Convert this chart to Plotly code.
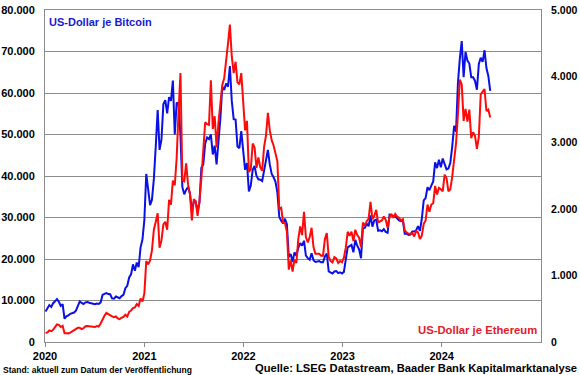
import pandas as pd
import plotly.graph_objects as go

# Weekly (Friday) closing prices, Jan 2020 - Jun 2024
btc_usd = [
    # 2020
    7350, 8050, 8900, 8450, 9350,
    9800, 10350, 9700, 8700,
    9100, 5600, 6200, 6400,
    6800, 6900, 7100, 7550,
    8850, 9800, 9400, 9150, 9550,
    9650, 9450, 9350, 9150,
    9100, 9250, 9150, 9550, 11350,
    11600, 11800, 11550, 11500,
    10500, 10450, 10950, 10700,
    10550, 11050, 11350, 12950, 13550,
    15550, 16300, 18700, 17150,
    19150, 18050, 22800, 24700,
    # 2021
    29400, 40500, 36800, 33000, 34300,
    39300, 47200, 55900, 46300,
    48800, 57300, 58300, 55100,
    59000, 58100, 63000, 50000, 57700,
    57300, 49700, 37300, 35600,
    36700, 37300, 35800, 31600,
    33800, 33800, 31500, 33600, 42000,
    42800, 47800, 49300, 48900,
    50000, 45200, 47300, 42800,
    48200, 53900, 61500, 60700, 62300,
    61500, 66500, 58100, 53700,
    53600, 47100, 46700, 50800, 46300,
    # 2022
    41500, 43100, 36300, 37700,
    41500, 42400, 40000, 39200,
    39100, 38800, 41300, 44500,
    46300, 42800, 40500, 39700, 38600,
    36000, 30100, 29200, 28600,
    29700, 28400, 20500, 21200,
    19300, 21600, 20800, 22700, 23800,
    23200, 24400, 20800, 20200,
    19800, 21400, 19700, 19300, 19400,
    19500, 19200, 19200, 20600,
    21300, 17000, 16700, 16500,
    17000, 17100, 16600, 16800, 16500,
    # 2023
    16900, 19900, 22800, 23100,
    23400, 21600, 24600, 23200,
    22300, 20200, 27400, 27500, 28500,
    27900, 30500, 27800, 29300,
    29500, 26800, 26900, 26700,
    27200, 26500, 26300, 30700, 30500,
    30300, 30300, 29800, 29300,
    29100, 29400, 26100, 26100,
    25800, 25900, 26600, 26600, 26900,
    27900, 26800, 29700, 34100,
    34700, 37300, 36600, 37700,
    38700, 43300, 41900, 43900, 42100,
    # 2024
    44200, 42900, 41600, 41800,
    43200, 47100, 52100, 50700,
    62400, 68300, 72500, 63800, 69900,
    67800, 67100, 63800, 63800,
    62900, 60800, 67000, 68500, 67500,
    70300, 66000, 64100, 60500,
]

eth_usd = [
    # 2020
    134, 144, 173, 162, 183,
    222, 265, 258, 226,
    244, 133, 132, 130,
    141, 158, 171, 187,
    214, 213, 194, 208, 237,
    241, 237, 229, 230,
    225, 241, 233, 279, 345,
    395, 438, 416, 396,
    385, 375, 385, 355,
    345, 366, 377, 410, 383,
    455, 475, 510, 520,
    570, 545, 655, 610,
    # 2021
    730, 1220, 1170, 1230, 1380,
    1690, 1810, 1940, 1420,
    1530, 1770, 1810, 1690,
    2140, 2070, 2430, 2360, 2770,
    3480, 4050, 2440, 2420,
    2690, 2370, 2230, 1830,
    2150, 2120, 1900, 2120, 2460,
    2890, 3310, 3280, 3270,
    3940, 3210, 3400, 2930,
    3310, 3570, 3870, 3970, 4290,
    4490, 4780, 4300, 4050,
    4220, 3910, 3880, 4050, 3680,
    # 2022
    3190, 3330, 2560, 2600,
    2990, 2930, 2620, 2780,
    2630, 2580, 2940, 3110,
    3450, 3190, 3040, 2960, 2820,
    2720, 2000, 2020, 1800,
    1790, 1660, 1090, 1230,
    1060, 1240, 1190, 1550, 1740,
    1610, 1960, 1580, 1500,
    1580, 1720, 1430, 1330, 1330,
    1330, 1300, 1300, 1550,
    1640, 1280, 1220, 1200,
    1280, 1260, 1190, 1220, 1200,
    # 2023
    1270, 1420, 1660, 1600,
    1660, 1520, 1690, 1610,
    1570, 1430, 1800, 1750, 1820,
    1860, 2110, 1850, 1900,
    1990, 1800, 1810, 1830,
    1890, 1840, 1720, 1880, 1930,
    1870, 1930, 1890, 1870,
    1830, 1850, 1680, 1650,
    1630, 1630, 1640, 1590, 1670,
    1650, 1550, 1600, 1780,
    1830, 2070, 1960, 2070,
    2090, 2350, 2220, 2320, 2300,
    # 2024
    2270, 2520, 2470, 2270,
    2300, 2490, 2800, 2990,
    3430, 3950, 3880, 3330, 3510,
    3320, 3500, 3070, 3160,
    3100, 2910, 3090, 3730, 3780,
    3810, 3480, 3500, 3380,
]

dates = pd.date_range("2020-01-03", periods=len(btc_usd), freq="W-FRI")

year_ticks = ["2020-01-01", "2021-01-01", "2022-01-01", "2023-01-01", "2024-01-01"]
year_labels = ["2020", "2021", "2022", "2023", "2024"]

FONT = "Liberation Sans, Arial, sans-serif"
GRID = "#8c8c8c"

fig = go.Figure()
fig.add_trace(go.Scatter(x=dates, y=btc_usd, mode="lines",
                         line=dict(color="#0a10e6", width=2), name="Bitcoin"))
fig.add_trace(go.Scatter(x=dates[:len(eth_usd)], y=eth_usd, mode="lines",
                         line=dict(color="#ff0a0a", width=2), name="Ethereum",
                         yaxis="y2"))

fig.update_layout(
    width=580, height=375,
    margin=dict(l=45, r=39, t=10, b=33, autoexpand=False),
    paper_bgcolor="white", plot_bgcolor="white",
    showlegend=False,
    separators=",.",
    font=dict(family=FONT, size=11, color="black"),
    xaxis=dict(
        range=["2020-01-01", "2025-01-01"],
        tickvals=year_ticks, ticktext=year_labels,
        tickfont=dict(size=11, weight="bold"),
        ticks="outside", ticklen=4, tickcolor=GRID,
        showgrid=False, showline=True, linecolor=GRID, linewidth=1,
        mirror=True, zeroline=False, automargin=False,
    ),
    yaxis=dict(
        range=[0, 80000], dtick=10000, tickformat=",d",
        tickfont=dict(size=11, weight="bold"),
        showgrid=True, gridcolor=GRID, gridwidth=1,
        showline=True, linecolor=GRID, linewidth=1,
        zeroline=False, ticks="", ticklabelstandoff=7, automargin=False,
    ),
    yaxis2=dict(
        range=[0, 5000], dtick=1000, tickformat=",d",
        overlaying="y", side="right",
        tickfont=dict(size=10.5, weight="bold"),
        showgrid=False, showline=True, linecolor=GRID, linewidth=1,
        zeroline=False, ticks="", ticklabelstandoff=7, automargin=False,
    ),
)

fig.add_annotation(text="US-Dollar je Bitcoin", xref="paper", yref="paper",
                   x=0.004, y=0.988, xanchor="left", yanchor="top", showarrow=False,
                   font=dict(family=FONT, size=11, color="#1a1ad2", weight="bold"))
fig.add_annotation(text="US-Dollar je Ethereum", xref="paper", yref="paper",
                   x=0.995, y=0.012, xanchor="right", yanchor="bottom", showarrow=False,
                   font=dict(family=FONT, size=11.3, color="#e0202a", weight="bold"))
fig.add_annotation(text="Stand: aktuell zum Datum der Veröffentlichung", xref="paper", yref="paper",
                   x=-0.089, y=-0.064, xanchor="left", yanchor="top", showarrow=False,
                   font=dict(family=FONT, size=8.5, color="black", weight="bold"))
fig.add_annotation(text="Quelle: LSEG Datastream, Baader Bank Kapitalmarktanalyse", xref="paper", yref="paper",
                   x=1.076, y=-0.054, xanchor="right", yanchor="top", showarrow=False,
                   font=dict(family=FONT, size=11.2, color="black", weight="bold"))

fig.write_html("out.html", config={"displayModeBar": False},
               post_script="document.body.style.margin='0';document.body.style.overflow='hidden';")
